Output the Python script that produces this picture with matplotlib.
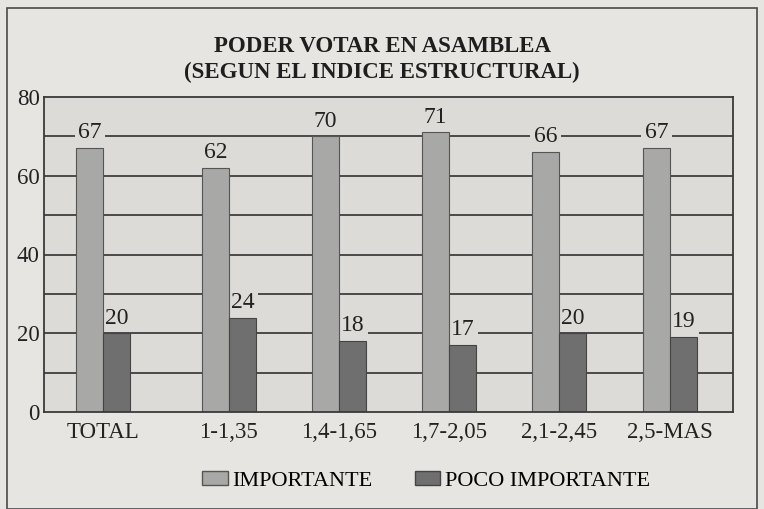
import matplotlib
matplotlib.use('Agg')
import matplotlib.pyplot as plt
from matplotlib.patches import Rectangle, Patch

categories = ['TOTAL', '1-1,35', '1,4-1,65', '1,7-2,05', '2,1-2,45', '2,5-MAS']
importante = [67, 62, 70, 71, 66, 67]
poco_importante = [20, 24, 18, 17, 20, 19]
series_names = ['IMPORTANTE', 'POCO IMPORTANTE']

plt.rcParams['font.family'] = ['Liberation Serif', 'DejaVu Serif']

fig = plt.figure(figsize=(7.64, 5.09), dpi=100)
fig.patch.set_facecolor('#e6e5e1')
fig.patches.append(Rectangle((7/764, 0), 750/764, 1 - 8/509, transform=fig.transFigure,
                             fill=False, edgecolor='#4a4a4a', linewidth=1.2))

ax = fig.add_axes([44/764, 1 - 412/509, 689/764, 315/509])
ax.set_facecolor('#dcdbd7')

x = [0, 1.14, 2.14, 3.14, 4.14, 5.15]
w = 0.245
light = '#a8a8a6'
dark = '#6f6f6f'

for gy in range(10, 80, 10):
    ax.axhline(gy, color='#4a4a4a', linewidth=1.4, zorder=1)

xl = [v - w / 2 for v in x]
xr = [v + w / 2 for v in x]
ax.bar(xl, importante, w, color=light, edgecolor='#555555', linewidth=0.8, zorder=2)
ax.bar(xr, poco_importante, w, color=dark, edgecolor='#444444', linewidth=0.8, zorder=2)

# labels sit between gridlines and bars so the box only cuts the gridlines
for xi, v in zip(xl, importante):
    ax.text(xi, v + 1.2, str(v), ha='center', va='bottom', fontsize=17, color='#222222',
            zorder=1.5, bbox=dict(facecolor='#dcdbd7', edgecolor='none', pad=2.5))
for xi, v in zip(xr, poco_importante):
    ax.text(xi, v + 1.2, str(v), ha='center', va='bottom', fontsize=17, color='#222222',
            zorder=1.5, bbox=dict(facecolor='#dcdbd7', edgecolor='none', pad=2.5))

ax.set_xlim(-0.54, 5.72)
ax.set_ylim(0, 80)
ax.set_yticks([0, 20, 40, 60, 80])
ax.set_xticks(x)
ax.set_xticklabels(categories)
ax.tick_params(axis='both', length=0, labelsize=16.5, colors='#222222')
ax.tick_params(axis='y', pad=3)
ax.tick_params(axis='x', pad=7)
for s in ax.spines.values():
    s.set_color('#3a3a3a')
    s.set_linewidth(1.3)

fig.text(0.5, 1 - 46/509, 'PODER VOTAR EN ASAMBLEA', ha='center', va='center',
         fontsize=16.5, fontweight='bold', color='#1e1e1e')
fig.text(0.5, 1 - 72/509, '(SEGUN EL INDICE ESTRUCTURAL)', ha='center', va='center',
         fontsize=16.5, fontweight='bold', color='#1e1e1e')

handles = [Patch(facecolor=light, edgecolor='#555555'), Patch(facecolor=dark, edgecolor='#444444')]
fig.legend(handles, series_names, loc='center', bbox_to_anchor=(426/764, 1 - 481/509),
           ncol=2, frameon=False, fontsize=16, handlelength=1.15, handleheight=0.55,
           handletextpad=0.2, columnspacing=1.9)

fig.savefig('out.png', dpi=100, facecolor=fig.get_facecolor())
